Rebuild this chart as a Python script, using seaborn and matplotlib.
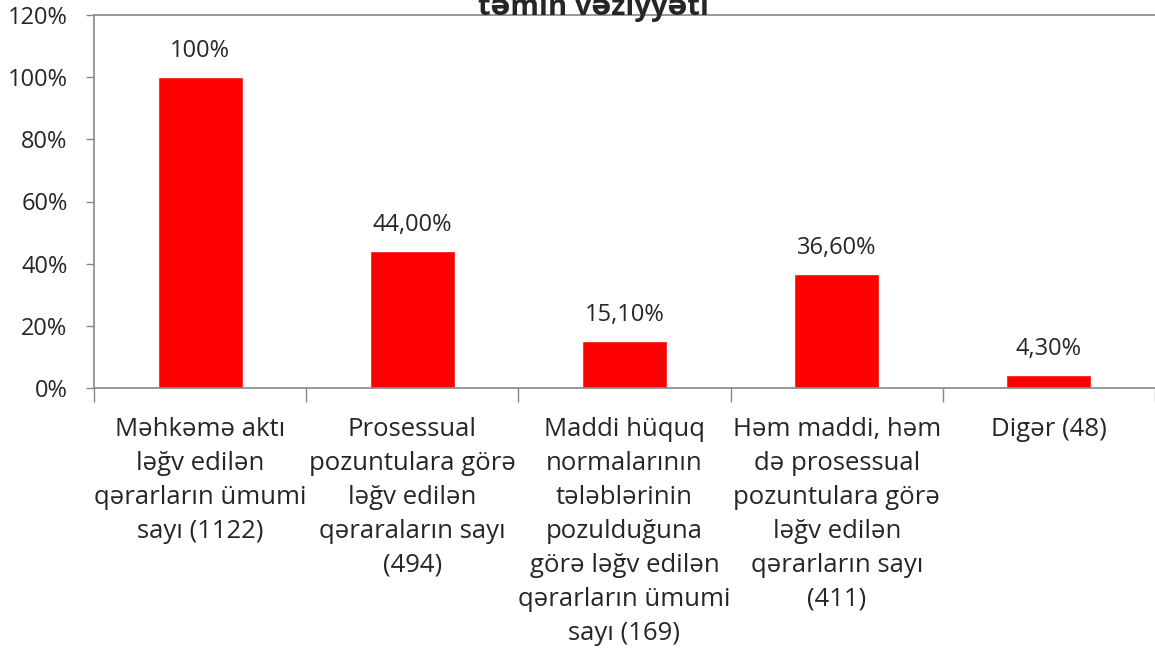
import numpy as np
import pandas as pd
import matplotlib
matplotlib.use("Agg")
import matplotlib.pyplot as plt
import seaborn as sns

categories = [
    "Məhkəmə aktı\nləğv edilən\nqərarların ümumi\nsayı (1122)",
    "Prosessual\npozuntulara görə\nləğv edilən\nqəraraların sayı\n(494)",
    "Maddi hüquq\nnormalarının\ntələblərinin\npozulduğuna\ngörə ləğv edilən\nqərarların ümumi\nsayı (169)",
    "Həm maddi, həm\ndə prosessual\npozuntulara görə\nləğv edilən\nqərarların sayı\n(411)",
    "Digər (48)",
]
values = [100, 44.0, 15.1, 36.6, 4.3]
value_labels = ["100%", "44,00%", "15,10%", "36,60%", "4,30%"]
yticks = [0, 20, 40, 60, 80, 100, 120]

sns.set_theme(style="white")
plt.rcParams["font.family"] = ["Open Sans", "DejaVu Sans"]

df = pd.DataFrame({"cat": categories, "val": values})

fig = plt.figure(figsize=(11.55, 6.58), dpi=100)
ax = fig.add_axes([94 / 1155, 1 - 388 / 658, 1 - 94 / 1155, (388 - 15) / 658])

sns.barplot(data=df, x="cat", y="val", color="#ff0000", saturation=1, width=0.4, ax=ax)

ax.set_ylim(0, 120)
ax.set_xlim(-0.5, len(categories) - 0.5)
ax.set_yticks(yticks)
ax.set_yticklabels([f"{t}%" for t in yticks], fontsize=17)
ax.set_xlabel("")
ax.set_ylabel("")

# category labels between boundary ticks
ax.set_xticks(np.arange(len(categories)))
ax.set_xticklabels(categories, fontsize=18.5, linespacing=1.47, va="top")
ax.tick_params(axis="x", length=0, pad=21)
ax.set_xticks(np.arange(len(categories) + 1) - 0.5, minor=True)
ax.tick_params(axis="x", which="minor", length=10, color="#868686", width=1, bottom=True)
ax.tick_params(axis="y", length=6, color="#868686", width=1, left=True, pad=13)

for s in ["left", "bottom", "top"]:
    ax.spines[s].set_color("#868686")
    ax.spines[s].set_linewidth(1.2)
ax.spines["right"].set_visible(False)

for i, (v, lab) in enumerate(zip(values, value_labels)):
    ax.text(i, v + 4.5, lab, ha="center", va="bottom", fontsize=17)

fig.text(0.514, 1 - 15 / 658, "təmin vəziyyəti", ha="center", va="baseline",
         fontsize=21, fontweight="bold")

fig.savefig("out.png", dpi=100)
